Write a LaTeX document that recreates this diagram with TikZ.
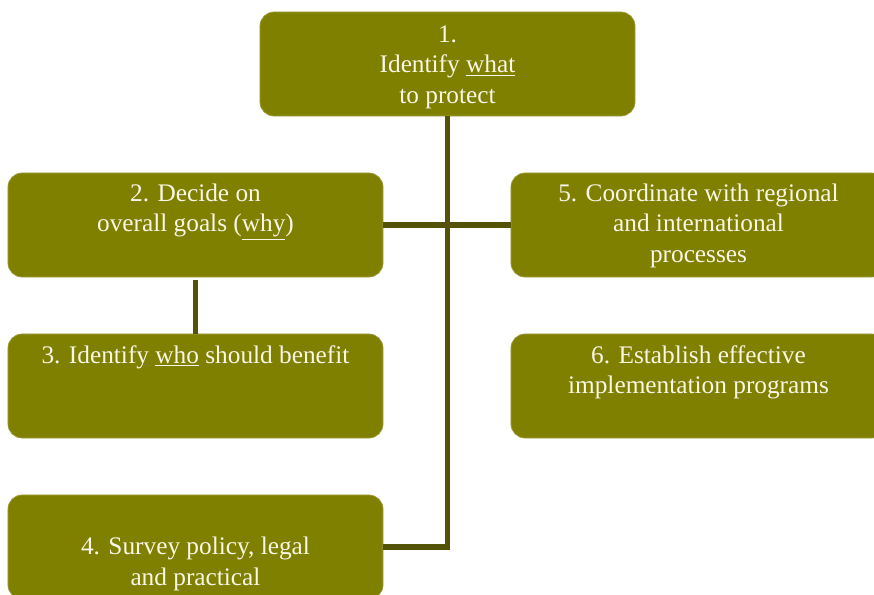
\documentclass[tikz,border=0pt]{standalone}
\usepackage{fontspec}
\setmainfont{Liberation Serif}
\usetikzlibrary{positioning}
\definecolor{olivebox}{HTML}{808000}
\definecolor{oliveline}{HTML}{545108}
\definecolor{cream}{HTML}{F8F6E6}
% text of a box, set from its top
\newcommand{\boxtext}[2][0pt]{\parbox[c][2.6cm][t]{9.2cm}{\centering\vspace*{#1}#2}}
\tikzset{
  stepbox/.style={rectangle, rounded corners=10pt, draw=olivebox!75!white, line width=0.5pt,
    fill=olivebox, text=cream, minimum width=9.375cm, minimum height=2.6cm, inner sep=0pt,
    font=\fontsize{18}{21.5}\selectfont},
  link/.style={line width=4pt, oliveline},
}
\begin{document}
\begin{tikzpicture}[x=0.025cm, y=-0.025cm]
\clip (0,0) rectangle (874,594);
\node[stepbox] (what) at (447.5,64) {\boxtext[0.35cm]{1.\\Identify \underline{what}\\to protect}};
\node[stepbox] (why) at (195.5,225) {\boxtext[0.28cm]{2. Decide on\\overall goals (\underline{why})}};
\node[stepbox] (who) at (195.5,386) {\boxtext[0.28cm]{3. Identify \underline{who} should benefit}};
\node[stepbox] (survey) at (195.5,547) {\boxtext[1.06cm]{4. Survey policy, legal\\and practical}};
\node[stepbox] (coord) at (698.5,225) {\boxtext[0.28cm]{5. Coordinate with regional\\and international\\processes}};
\node[stepbox] (impl) at (698.5,386) {\boxtext[0.28cm]{6. Establish effective\\implementation programs}};
\draw[link] (what.south) -- (what.south |- survey.east) -- (survey.east);
\draw[link] (why.east) -- (coord.west);
\draw[link] ([yshift=-2pt]why.south) -- (who.north);
\end{tikzpicture}
\end{document}
